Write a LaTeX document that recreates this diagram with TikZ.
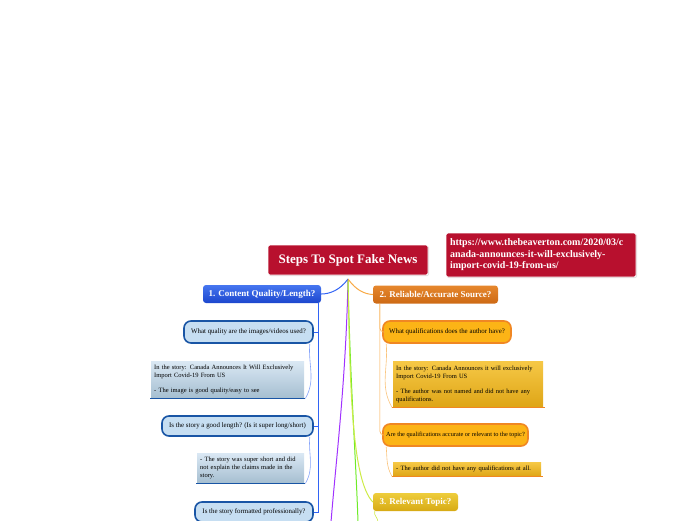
\documentclass[tikz,border=0pt]{standalone}
\usepackage{fontspec}
\setmainfont{Liberation Serif}
\usepackage{xcolor}
\usetikzlibrary{arrows.meta,calc,positioning,shapes.misc,shadows}

\definecolor{crimson}{RGB}{184,16,46}
\definecolor{bluetop}{RGB}{70,118,240}
\definecolor{bluebot}{RGB}{28,70,205}
\definecolor{orangetop}{RGB}{230,135,45}
\definecolor{orangebot}{RGB}{205,105,20}
\definecolor{goldtop}{RGB}{238,205,60}
\definecolor{goldbot}{RGB}{215,170,20}
\definecolor{qblue}{RGB}{198,222,242}
\definecolor{qblueline}{RGB}{25,85,165}
\definecolor{nbluetop}{RGB}{218,232,244}
\definecolor{nbluebot}{RGB}{165,190,208}
\definecolor{qorange}{RGB}{252,180,22}
\definecolor{qorangeline}{RGB}{240,135,35}
\definecolor{nortop}{RGB}{246,200,70}
\definecolor{norbot}{RGB}{222,165,22}
\definecolor{linkblue}{RGB}{50,100,245}
\definecolor{linkorange}{RGB}{248,170,70}
\definecolor{linkpurple}{RGB}{160,50,255}
\definecolor{linkgreen}{RGB}{110,235,40}
\definecolor{linkyellow}{RGB}{205,235,70}

\begin{document}
\begin{tikzpicture}[x=1pt,y=-1pt,
  central/.style={fill=crimson,draw=white,line width=0.8pt,rounded corners=2pt,text=white,
    font=\bfseries\fontsize{13}{15}\selectfont,minimum width=160pt,minimum height=30pt,inner sep=2pt,
    drop shadow={opacity=0.25,shadow xshift=1pt,shadow yshift=-1pt}},
  urlbox/.style={central,font=\bfseries\fontsize{10}{11.5}\selectfont,minimum width=190pt,minimum height=44pt,
    align=left,text width=182pt},
  mainbox/.style={rounded corners=3pt,text=white,font=\bfseries\fontsize{9}{10}\selectfont,
    minimum height=18pt,inner sep=2pt},
  subq/.style={rounded corners=7pt,line width=1.6pt,font=\fontsize{6.9}{8}\selectfont,
    minimum height=22pt,inner sep=2pt},
  note/.style={font=\fontsize{6.5}{8}\selectfont,align=left,inner xsep=3pt,inner ysep=3pt,anchor=north west},
  link/.style={line width=1pt},
  thin/.style={line width=0.6pt}]
\useasboundingbox (0,0) rectangle (696,520);

% centre and url
\node[central] (root) at (348,260) {Steps To Spot Fake News};
\node[urlbox] (url) at (541,255) {https://www.thebeaverton.com/2020/03/c\\anada-announces-it-will-exclusively-\\import-covid-19-from-us/};

% main topics
\node[mainbox,top color=bluetop,bottom color=bluebot,minimum width=118pt] (quality) at (262,294) {1. Content Quality/Length?};
\node[mainbox,top color=orangetop,bottom color=orangebot,minimum width=125pt] (source) at (435.5,294.5) {2. Reliable/Accurate Source?};
\node[mainbox,top color=goldtop,bottom color=goldbot,minimum width=85pt] (topic) at (415.5,502) {3. Relevant Topic?};

% branches from the centre
\coordinate (hub) at (348,279);
\coordinate (purpleend) at (331,522);
\coordinate (greenend) at (358,522);
\draw[link,linkpurple] (hub) .. controls (346,380) and (336,460) .. (purpleend);
\draw[link,linkgreen] (hub) .. controls (350,380) and (356,460) .. (greenend);
\draw[link,linkyellow] (hub) .. controls (350,390) and (352,480) .. (topic.west);
\draw[link,linkblue] (hub) .. controls (340,290) and (330,294) .. (quality.east);
\draw[link,linkorange] (hub) .. controls (356,290) and (364,294) .. (source.west);

% content quality
\node[subq,draw=qblueline,fill=qblue,minimum width=129pt] (imgq) at (248.5,332) {What quality are the images/videos used?};
\node[note,top color=nbluetop,bottom color=nbluebot,minimum width=153pt,minimum height=37pt,text width=147pt] (imgn) at (151,361)
  {In the story: Canada Announces It Will Exclusively\\Import Covid-19 From US\\[7pt]- The image is good quality/easy to see};
\node[subq,draw=qblueline,fill=qblue,minimum width=151pt,minimum height=20pt] (lenq) at (237.5,426) {Is the story a good length? (Is it super long/short)};
\node[note,top color=nbluetop,bottom color=nbluebot,minimum width=107pt,minimum height=30pt,text width=101pt] (lenn) at (197,453)
  {- The story was super short and did\\not explain the claims made in the\\story.};
\node[subq,draw=qblueline,fill=qblue,minimum width=118pt,minimum height=20pt] (fmtq) at (254,512) {Is the story formatted professionally?};

\draw[thin,linkblue] ($(quality.south east)+(-3,0)$) |- (fmtq.east);
\draw[thin,linkblue] ($(quality.south east)+(-3,0)$) |- (imgq.east);
\draw[thin,linkblue] ($(quality.south east)+(-3,0)$) |- (lenq.east);
\draw[line width=1.8pt,qblueline] ([xshift=-1pt]imgn.south west) -- ([xshift=1pt]imgn.south east);
\draw[line width=1.8pt,qblueline] ([xshift=-1pt]lenn.south west) -- ([xshift=1pt]lenn.south east);
\draw[thin,linkblue!60] ($(imgq.south east)+(-4,0)$) to[out=-95,in=60] ([xshift=1pt]imgn.south east);
\draw[thin,linkblue!60] ($(lenq.south east)+(-4,0)$) to[out=-95,in=60] ([xshift=1pt]lenn.south east);

% reliable source
\node[subq,draw=qorangeline,fill=qorange,minimum width=128pt] (authq) at (447,332) {What qualifications does the author have?};
\node[note,top color=nortop,bottom color=norbot,minimum width=150pt,minimum height=46pt,text width=144pt] (authn) at (393,361)
  {In the story: Canada Announces it will exclusively\\Import Covid-19 From US\\[7pt]- The author was not named and did not have any\\qualifications.};
\node[subq,draw=qorangeline,fill=qorange,minimum width=145pt,font=\fontsize{6.3}{8}\selectfont] (relq) at (455.5,435) {Are the qualifications accurate or relevant to the topic?};
\node[note,top color=nortop,bottom color=norbot,minimum width=148pt,minimum height=14pt,text width=142pt] (reln) at (393,462)
  {- The author did not have any qualifications at all.};

\draw[thin,linkorange,rounded corners=4pt] ($(source.south west)+(7,0)$) |- (authq.west);
\draw[thin,linkorange,rounded corners=4pt] ($(source.south west)+(7,0)$) |- (relq.west);
\draw[line width=1.8pt,qorangeline] ([xshift=-1pt]authn.south west) -- ([xshift=2pt]authn.south east);
\draw[line width=1.8pt,qorangeline] ([xshift=-1pt]reln.south west) -- ([xshift=2pt]reln.south east);
\draw[thin,linkorange!70] ($(authq.south west)+(4,0)$) to[out=-85,in=120] ([xshift=-1pt]authn.south west);
\draw[thin,linkorange!70] ($(relq.south west)+(4,0)$) to[out=-85,in=120] ([xshift=-1pt]reln.south west);

% relevant topic
\coordinate (topicend) at (378,522);
\draw[thin,linkyellow] ($(topic.south west)+(2,0)$) to[out=-110,in=90] (topicend);
\end{tikzpicture}
\end{document}
